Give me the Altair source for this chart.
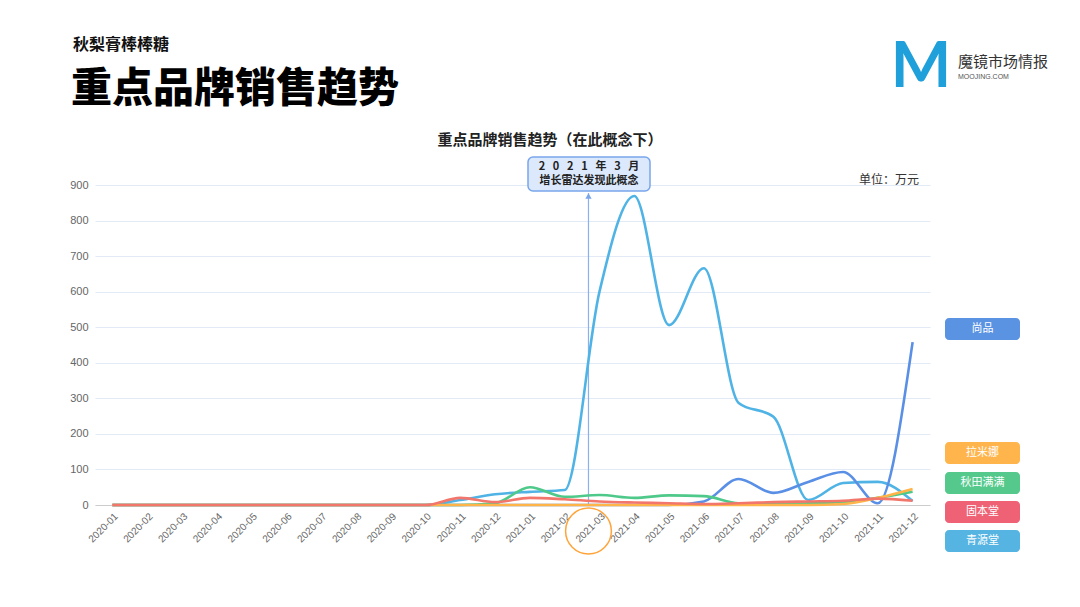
import altair as alt
import pandas as pd

months = ["2020-01", "2020-02", "2020-03", "2020-04", "2020-05", "2020-06",
          "2020-07", "2020-08", "2020-09", "2020-10", "2020-11", "2020-12",
          "2021-01", "2021-02", "2021-03", "2021-04", "2021-05", "2021-06",
          "2021-07", "2021-08", "2021-09", "2021-10", "2021-11", "2021-12"]

qingyuantang = [0, 0, 0, 0, 0, 0, 0, 0, 0, 0, 14, 30, 37, 42, 600, 869, 506, 666, 287, 248, 14, 62, 65, 11]
shangpin = [0, 0, 0, 0, 0, 0, 0, 0, 0, 0, 0, 0, 0, 0, 0, 0, 0, 10, 73, 34, 65, 93, 5, 458]
qiutian = [0, 0, 0, 0, 0, 0, 0, 0, 0, 0, 0, 5, 50, 23, 28, 20, 27, 25, 5, 3, 5, 8, 20, 37]
gubentang = [0, 0, 0, 0, 0, 0, 0, 0, 0, 0, 20, 8, 20, 16, 10, 7, 5, 3, 5, 8, 10, 12, 18, 12]
lamina = [0, 0, 0, 0, 0, 0, 0, 0, 0, 0, 0, 0, 0, 0, 0, 0, 0, 0, 0, 0, 0, 3, 20, 45]

brands = ["尚品", "拉米娜", "秋田满满", "固本堂", "青源堂"]
series = {"尚品": shangpin, "拉米娜": lamina, "秋田满满": qiutian, "固本堂": gubentang, "青源堂": qingyuantang}
line_colors = {"尚品": "#5a8fe6", "拉米娜": "#ffb449", "秋田满满": "#4fc98a", "固本堂": "#f2766b", "青源堂": "#50b3e5"}
legend_colors = {"尚品": "#5b93e3", "拉米娜": "#ffb54c", "秋田满满": "#55c98c", "固本堂": "#ef6174", "青源堂": "#56b4e2"}
y_ticks = [0, 100, 200, 300, 400, 500, 600, 700, 800, 900]

CJK = "Noto Sans CJK SC"
LAT = "Liberation Sans"

W, H = 835, 320
xscale = alt.Scale(type="point", domain=months, padding=0.5)
yscale = alt.Scale(domain=[0, 900], nice=False)

one = pd.DataFrame({"a": [0]})

def txt(text, x, y, size, color="#222", weight="normal", align="center", font=CJK, baseline="middle"):
    return alt.Chart(one).mark_text(text=text, fontSize=size, color=color, fontWeight=weight,
                                    align=align, baseline=baseline, font=font).encode(
        x=alt.value(x), y=alt.value(y))

x_axis = alt.Axis(labelAngle=-45, labelFontSize=10, labelColor="#666", labelFont=LAT,
                  domainColor="#cccccc", ticks=False, labelPadding=6, grid=False,
                  labelOverlap=False)
y_axis = alt.Axis(values=y_ticks, labelFontSize=11, labelColor="#666", labelFont=LAT,
                  domain=False, ticks=False, labelPadding=7, gridColor="#e2eaf7",
                  gridWidth=1, labelOverlap=False, labelFlush=False)

def X():
    return alt.X("month:O", scale=xscale, title=None, axis=x_axis)

def Y(field):
    return alt.Y(field + ":Q", scale=yscale, title=None, axis=y_axis)

layers = []

# annotation rule and arrow at 2021-03
ann = pd.DataFrame({"month": ["2021-03"]})
layers.append(alt.Chart(ann).mark_rule(color="#8cb0ec", strokeWidth=1.2, xOffset=-11).encode(
    x=X(), y=alt.value(8), y2=alt.value(H)))
layers.append(alt.Chart(ann).mark_point(shape="triangle-up", filled=True, color="#7aa6e8", size=40,
                                       opacity=1, xOffset=-11).encode(
    x=X(), y=alt.value(11)))

# lines
for b in ["青源堂", "尚品", "秋田满满", "拉米娜", "固本堂"]:
    df = pd.DataFrame({"month": months, "value": series[b]})
    layers.append(alt.Chart(df).mark_line(interpolate="monotone", strokeWidth=2.6,
                                         color=line_colors[b]).encode(
        x=X(), y=Y("value")))

# orange circle around 2021-03 label
layers.append(alt.Chart(ann).mark_point(shape="circle", filled=False, color="#ffa43a", size=2100,
                                       strokeWidth=1.5, opacity=1, xOffset=-11).encode(
    x=X(), y=alt.value(346)))

# annotation box
sp = "\u2002\u2009"
layers.append(alt.Chart(one).mark_rect(fill="#dce9fc", stroke="#79a5ea", strokeWidth=1.5,
                                      cornerRadius=5).encode(
    x=alt.value(433), x2=alt.value(555), y=alt.value(-28), y2=alt.value(6)))
layers.append(txt(sp.join(["2", "0", "2", "1", "年", "3", "月"]), 494, -18, 11, weight="bold"))
layers.append(txt("增长雷达发现此概念", 494, -4, 11, weight="bold"))

# chart title & unit
layers.append(txt("重点品牌销售趋势（在此概念下）", 455, -45, 15, weight="bold"))
layers.append(txt("单位：万元", 824, -5, 12, align="right", color="#333"))

# page titles
layers.append(txt("秋梨膏棒棒糖", -22, -140, 16, weight="bold", align="left", color="#111"))
layers.append(txt("重点品牌销售趋势", -24, -95, 41, weight=900, align="left", color="#000"))

# logo
layers.append(txt("M", 826, -117, 64, color="#1fa0da", weight="bold", font="Lato"))
layers.append(txt("魔镜市场情报", 863, -123, 15, align="left", color="#333"))
layers.append(txt("MOOJING.COM", 863, -108, 7, align="left", color="#555", font=LAT))

# custom legend
legend_y = {"尚品": 133, "拉米娜": 257, "秋田满满": 287, "固本堂": 316, "青源堂": 345}
for b in brands:
    y0 = legend_y[b]
    layers.append(alt.Chart(one).mark_rect(fill=legend_colors[b], cornerRadius=4).encode(
        x=alt.value(850), x2=alt.value(925), y=alt.value(y0), y2=alt.value(y0 + 22)))
    layers.append(txt(b, 887.5, y0 + 11, 11, color="white"))

chart = alt.layer(*layers).properties(
    width=W, height=H,
    autosize=alt.AutoSizeParams(type="none"),
    padding={"left": 95, "top": 185, "right": 150, "bottom": 102},
    background="white",
).configure_view(stroke=None)

chart.save("out.html", embed_options={"renderer": "svg", "actions": False})
